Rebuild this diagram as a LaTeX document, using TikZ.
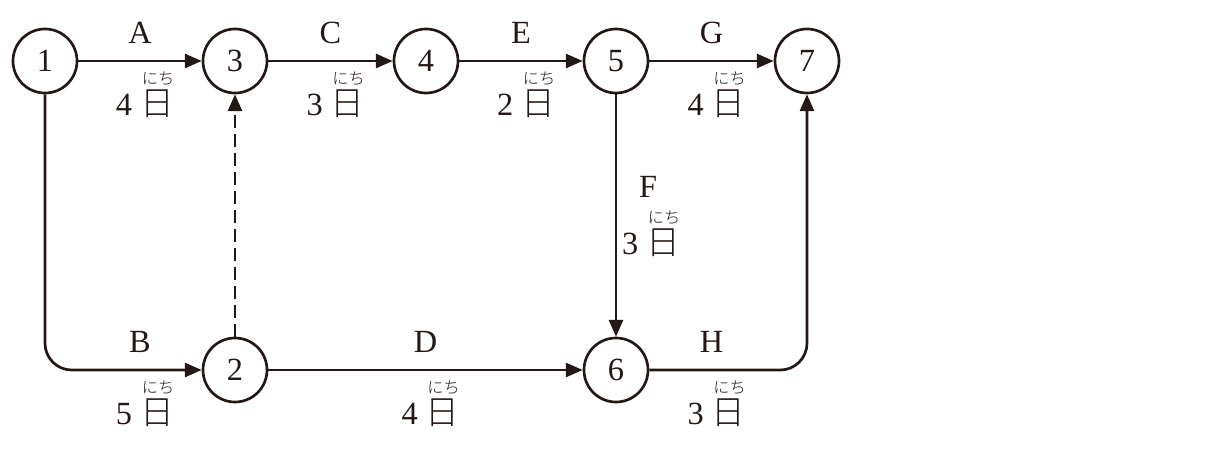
\documentclass[tikz,border=0pt]{standalone}
\usepackage{fontspec}
\setmainfont{Liberation Serif}
\IfFontExistsTF{Noto Sans CJK JP Light}
  {\newfontfamily\jpfont{Noto Sans CJK JP Light}}
  {\newfontfamily\jpfont{Noto Sans CJK JP}}
\usetikzlibrary{arrows.meta,calc}
\definecolor{ink}{HTML}{231815}

% ruby "nichi" over the day sign
\newcommand{\hi}{\rlap{\makebox[1.1em][c]{\raisebox{0.98em}{\fontsize{11.5}{12}\selectfont\jpfont にち}}}{\fontsize{24}{26}\selectfont\jpfont 日}}
\newcommand{\days}[1]{#1 \hi}

\begin{document}
\begin{tikzpicture}[x=0.025cm,y=-0.025cm,line width=1.9pt,draw=ink,text=ink,
    -{Triangle[length=12pt,width=10pt]}]
    \tikzstyle{event}=[circle,draw,minimum size=1.6cm,inner sep=0pt,font=\fontsize{23}{24}\selectfont]
    \tikzstyle{task}=[font=\fontsize{23}{24}\selectfont,inner sep=0pt]
    \tikzstyle{dummy}=[dash pattern=on 9pt off 4.5pt]

    \useasboundingbox (0,0) rectangle (1232,464);

    % Draw the events
    \node[event] (E-1) at (45,61) {1};
    \node[event] (E-3) at (235,61) {3};
    \node[event] (E-4) at (426,61) {4};
    \node[event] (E-5) at (616,61) {5};
    \node[event] (E-7) at (807,61) {7};
    \node[event] (E-2) at (235,370) {2};
    \node[event] (E-6) at (616,370) {6};

    % Connect the events
    \draw (E-1) -- (E-3);
    \draw (E-3) -- (E-4);
    \draw (E-4) -- (E-5);
    \draw (E-5) -- (E-7);
    \draw (E-5) -- (E-6);
    \draw (E-2) -- (E-6);
    \draw[rounded corners=19pt] (E-1) |- (E-2);
    \draw[rounded corners=19pt] (E-6) -| (E-7);
    \draw[dummy] (E-2) -- (E-3);

    % Task names above, durations below
    \node[task] (A) at ($(E-1)!0.5!(E-3)+(0,-28)$) {A};
    \node[task] (C) at ($(E-3)!0.5!(E-4)+(0,-28)$) {C};
    \node[task] (E) at ($(E-4)!0.5!(E-5)+(0,-28)$) {E};
    \node[task] (G) at ($(E-5)!0.5!(E-7)+(0,-28)$) {G};
    \node[task] (B) at ($(E-1|-E-2)!0.5!(E-2)+(0,-28)$) {B};
    \node[task] (D) at ($(E-2)!0.5!(E-6)+(0,-28)$) {D};
    \node[task] (H) at ($(E-6)!0.5!(E-7|-E-6)+(0,-28)$) {H};
    \node[task] (F) at (648,187) {F};

    \node[task,anchor=base] (dA) at ($(A)+(5,83)$) {\days{4}};
    \node[task,anchor=base] (dC) at ($(C)+(5,83)$) {\days{3}};
    \node[task,anchor=base] (dE) at ($(E)+(5,83)$) {\days{2}};
    \node[task,anchor=base] (dG) at ($(G)+(5,83)$) {\days{4}};
    \node[task,anchor=base] (dB) at ($(B)+(5,83)$) {\days{5}};
    \node[task,anchor=base] (dD) at ($(D)+(5,83)$) {\days{4}};
    \node[task,anchor=base] (dH) at ($(H)+(5,83)$) {\days{3}};
    \node[task,anchor=base] (dF) at ($(F)+(3,68)$) {\days{3}};
\end{tikzpicture}
\end{document}
